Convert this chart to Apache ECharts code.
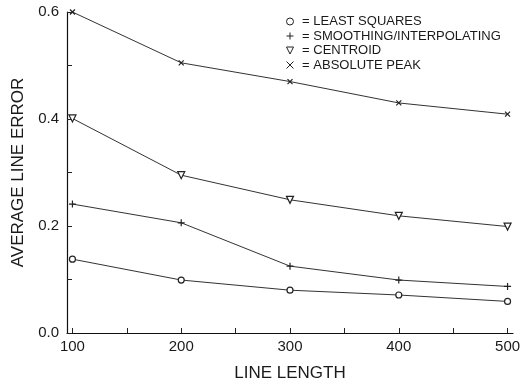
<!DOCTYPE html>
<html>
<head>
<meta charset="utf-8">
<script src="https://cdn.jsdelivr.net/npm/echarts@6/dist/echarts.min.js"></script>
<style>
html,body{margin:0;padding:0;background:#fff;}
#chart{width:528px;height:383px;}
</style>
</head>
<body>
<div id="chart"></div>
<script>
// Data
var lineLengths = [100, 200, 300, 400, 500];
var leastSquares = [0.138, 0.099, 0.080, 0.071, 0.059];
var smoothingInterpolating = [0.241, 0.206, 0.125, 0.099, 0.087];
var centroid = [0.401, 0.295, 0.249, 0.219, 0.199];
var absolutePeak = [0.600, 0.505, 0.470, 0.430, 0.409];
var seriesNames = ['LEAST SQUARES', 'SMOOTHING/INTERPOLATING', 'CENTROID', 'ABSOLUTE PEAK'];
var xTickValues = [100, 150, 200, 250, 300, 350, 400, 450, 500];
var xLabelValues = [100, 200, 300, 400, 500];
var yTickValues = [0, 0.1, 0.2, 0.3, 0.4, 0.5, 0.6];
var yLabelValues = [0, 0.2, 0.4, 0.6];

var FONT = 'Liberation Sans, Arial, sans-serif';
var INK = '#1a1a1a';

var symCircle = 'circle';
var symPlus = 'path://M5,0V10M0,5H10';
var symTri = 'path://M0,0L10,0L5,10Z';
var symCross = 'path://M0,0L10,10M10,0L0,10';

function pairs(ys) {
  return lineLengths.map(function (x, i) { return [x, ys[i]]; });
}

function makeSeries(name, ys, symbol, size) {
  return {
    name: name,
    type: 'line',
    data: pairs(ys),
    symbol: symbol,
    symbolSize: size,
    showAllSymbol: true,
    lineStyle: { color: '#333', width: 1 },
    itemStyle: { color: '#fff', borderColor: '#222', borderWidth: 1.2 },
    emphasis: { disabled: true },
    animation: false,
    z: 3
  };
}

var chart = echarts.init(document.getElementById('chart'), null, { renderer: 'canvas' });
chart.setOption({
  backgroundColor: '#fff',
  animation: false,
  textStyle: { fontFamily: FONT, color: INK },
  grid: { left: 67, right: 15, top: 12, bottom: 50, containLabel: false, outerBoundsMode: 'none' },
  legend: {
    orient: 'vertical',
    left: 281,
    top: 10,
    itemWidth: 7,
    itemHeight: 7,
    itemGap: 1.5,
    selectedMode: false,
    itemStyle: { color: '#fff', borderColor: '#222', borderWidth: 1 },
    textStyle: { fontFamily: FONT, fontSize: 13, color: INK },
    formatter: function (n) { return ' = ' + n; },
    data: [
      { name: seriesNames[0], icon: 'circle' },
      { name: seriesNames[1], icon: symPlus },
      { name: seriesNames[2], icon: symTri },
      { name: seriesNames[3], icon: symCross }
    ]
  },
  xAxis: {
    type: 'value',
    min: 95,
    max: 505,
    name: 'LINE LENGTH',
    nameLocation: 'middle',
    nameGap: 32,
    nameTextStyle: { fontFamily: FONT, fontSize: 17, color: INK },
    axisLine: { show: true, lineStyle: { color: '#111', width: 1.2 } },
    axisTick: { show: true, inside: true, length: 5, customValues: xTickValues, lineStyle: { color: '#222' } },
    axisLabel: { customValues: xLabelValues, fontFamily: FONT, fontSize: 15, color: INK, margin: 6 },
    splitLine: { show: false }
  },
  yAxis: {
    type: 'value',
    min: 0,
    max: 0.6,
    name: 'AVERAGE LINE ERROR',
    nameLocation: 'middle',
    nameGap: 36,
    nameTextStyle: { fontFamily: FONT, fontSize: 17, color: INK },
    axisLine: { show: true, lineStyle: { color: '#111', width: 1.2 } },
    axisTick: { show: true, inside: true, length: 5, customValues: yTickValues, lineStyle: { color: '#222' } },
    axisLabel: {
      customValues: yLabelValues,
      fontFamily: FONT, fontSize: 15, color: INK, margin: 8,
      formatter: function (v) { return v.toFixed(1); }
    },
    splitLine: { show: false }
  },
  series: [
    makeSeries(seriesNames[0], leastSquares, symCircle, 6),
    makeSeries(seriesNames[1], smoothingInterpolating, symPlus, 7),
    makeSeries(seriesNames[2], centroid, symTri, 7),
    makeSeries(seriesNames[3], absolutePeak, symCross, 5)
  ]
});
</script>
</body>
</html>
